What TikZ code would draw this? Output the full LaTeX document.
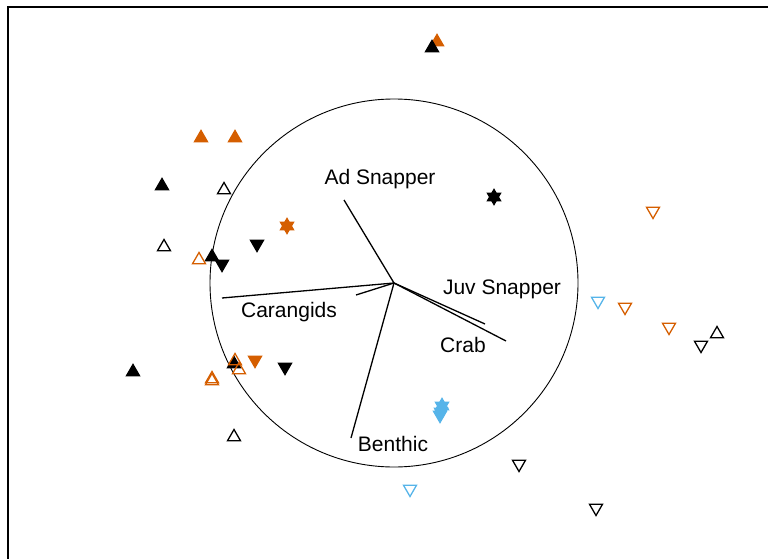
\documentclass[tikz,border=0pt]{standalone}
\usepackage{fontspec}
\setmainfont{Liberation Sans}
\usetikzlibrary{shapes.geometric}
\definecolor{fishorange}{RGB}{213,94,0}
\definecolor{fishblue}{RGB}{86,180,233}

\begin{document}
\begin{tikzpicture}
[x=1pt,y=-1pt
,mk/.style={regular polygon,regular polygon sides=3,minimum size=15pt,inner sep=0pt,outer sep=0pt,line width=1.3pt}
,up/.style={mk,draw=#1}
,upf/.style={mk,draw=#1,fill=#1}
,dn/.style={mk,shape border rotate=180,draw=#1}
,dnf/.style={mk,shape border rotate=180,draw=#1,fill=#1}
,vec/.style={draw=black,line width=1.3pt}
,lab/.style={font=\fontsize{21}{24}\selectfont,inner sep=0pt,anchor=base}
]
\useasboundingbox (0,0) rectangle (768,559);
% frame and correlation circle
\draw[line width=1.5pt] (8,600) |- (800,7);
\coordinate (o) at (394,283);
\draw[line width=0.9pt] (o) circle (184pt);
% vectors
\coordinate (adS) at (344,200);
\coordinate (car) at (222,298);
\coordinate (car2) at (356,295);
\coordinate (juv) at (485,324);
\coordinate (crb) at (506,341);
\coordinate (ben) at (351,438);
\foreach \e in {adS,car,car2,juv,crb,ben}
  \draw[vec] (o) -- (\e);
\node[lab] (tAd) at (380,184) {Ad Snapper};
\node[lab] (tCar) at (289,317) {Carangids};
\node[lab] (tJuv) at (502,294) {Juv Snapper};
\node[lab] (tCrb) at (463,352) {Crab};
\node[lab] (tBen) at (393,451) {Benthic};
% markers
\foreach \x/\y [count=\i] in {437/42,201/138,235/138}
  \node[upf=fishorange] (ofu\i) at (\x,\y) {};
\foreach \x/\y [count=\i] in {432/48,162/186,212/257,133/372,234/364}
  \node[upf=black] (bfu\i) at (\x,\y) {};
\foreach \x/\y [count=\i] in {224/190,164/247,234/437,717/334}
  \node[up=black] (bou\i) at (\x,\y) {};
\foreach \x/\y [count=\i] in {199/260,212/379,212/381,235/361,239/370}
  \node[up=fishorange] (oou\i) at (\x,\y) {};
\foreach \x/\y [count=\i] in {257/244,222/264,285/367}
  \node[dnf=black] (bfd\i) at (\x,\y) {};
\node[dnf=fishorange] (ofd1) at (255,360) {};
\foreach \x/\y [count=\i] in {440/415,441/412}
  \node[dnf=fishblue] (lfd\i) at (\x,\y) {};
\foreach \x/\y [count=\i] in {701/345,519/464,596/508}
  \node[dn=black] (bod\i) at (\x,\y) {};
\foreach \x/\y [count=\i] in {653/211,625/307,669/327}
  \node[dn=fishorange] (ood\i) at (\x,\y) {};
\foreach \x/\y [count=\i] in {598/301,410/489}
  \node[dn=fishblue] (lod\i) at (\x,\y) {};
% stars
\foreach \x/\y/\c [count=\i] in {494/197/black,287/226/fishorange,442/406/fishblue}{
  \node[upf=\c] (su\i) at (\x,\y) {};
  \node[dnf=\c] (sd\i) at (\x,\y) {};
}
\end{tikzpicture}
\end{document}
